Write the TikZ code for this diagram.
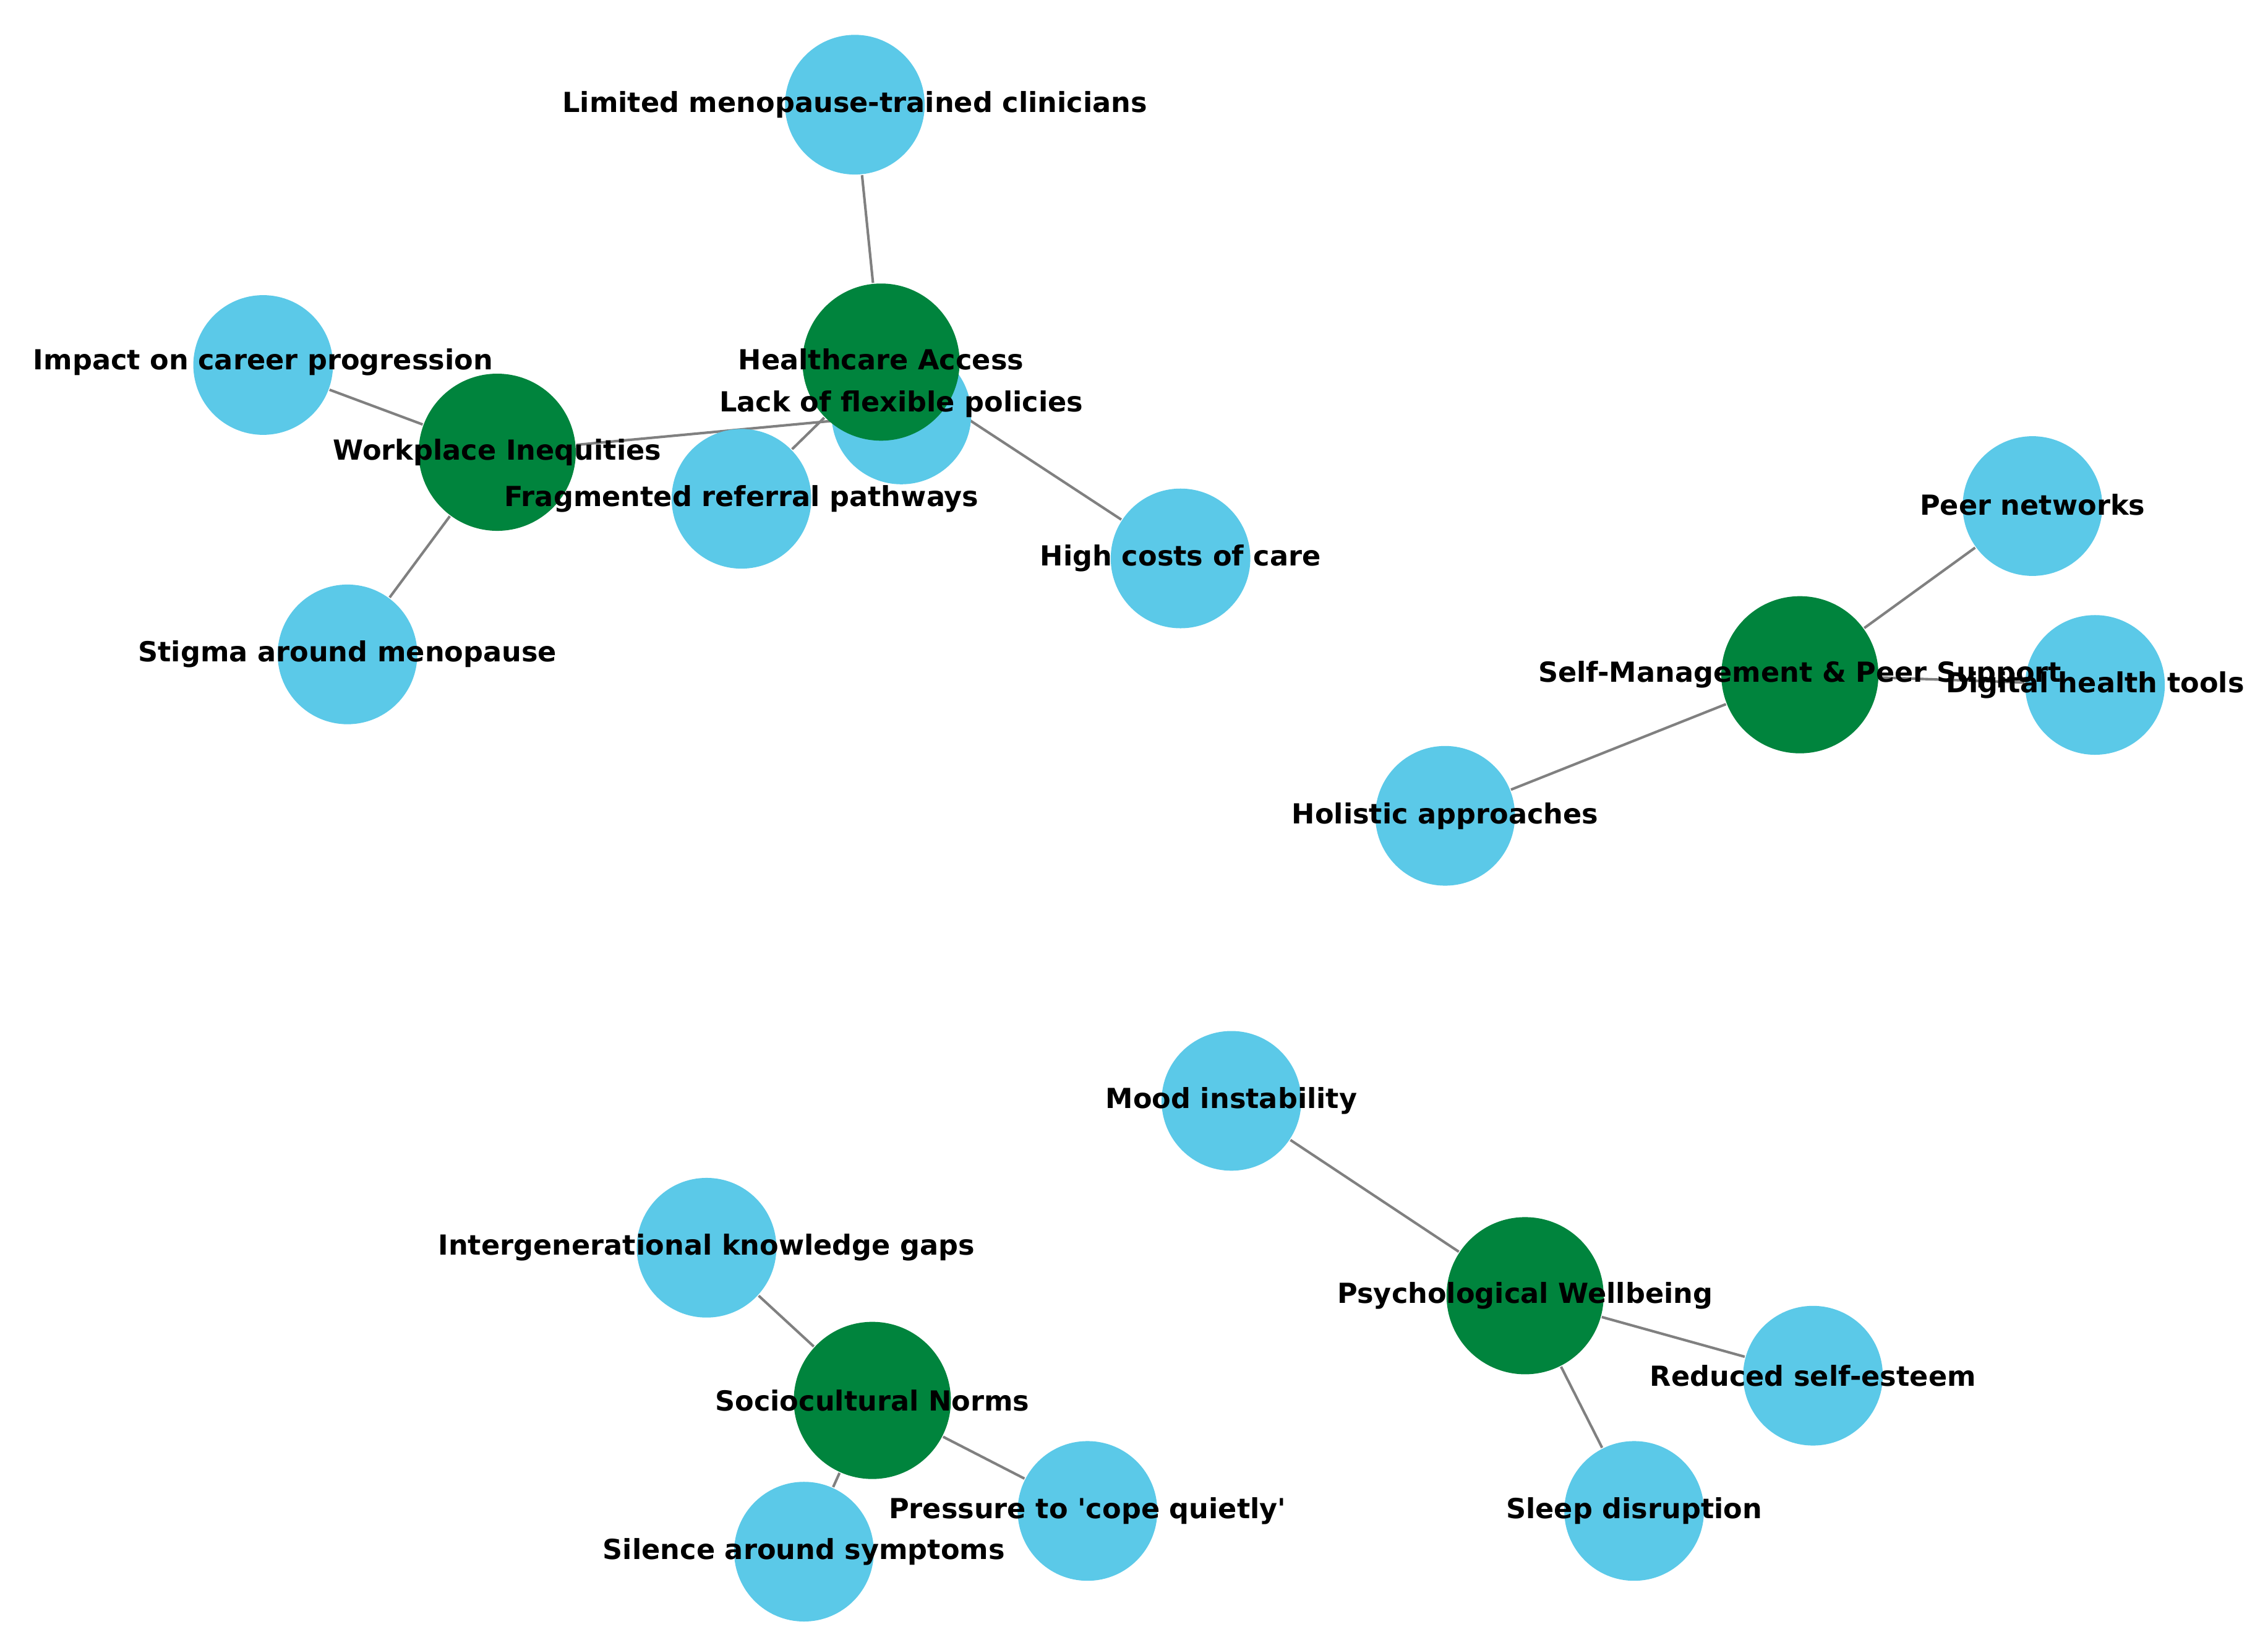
\documentclass[tikz,border=0pt]{standalone}
\usepackage{fontspec}
\setmainfont{DejaVu Sans}
\usetikzlibrary{backgrounds,calc}
\definecolor{leafblue}{HTML}{5BC9E8}
\definecolor{hubgreen}{HTML}{00843D}

\begin{document}
\begin{tikzpicture}[x=0.01cm,y=-0.01cm,
    leaf/.style={circle,fill=leafblue,minimum size=0.96cm,inner sep=0pt},
    hub/.style={circle,fill=hubgreen,minimum size=1.08cm,inner sep=0pt},
    lbl/.style={font=\fontsize{5.4}{6}\selectfont\bfseries,inner sep=0pt},
    edge/.style={draw=gray,line width=0.5pt}]
    \useasboundingbox (0,0) rectangle (1560,1131);

    % LEAVES
    \foreach \n/\x/\y in {lim/588/72, lack/620/285, imp/181/251, frag/510/343,
        cost/812/384, stig/239/450, peer/1398/348, dig/1441/471, hol/994/561,
        mood/847/757, self/1247/946, sleep/1124/1039, gen/486/858,
        cope/748/1039, sil/553/1067}
      \node[leaf] (\n) at (\x,\y) {};

    % HUBS
    \foreach \n/\x/\y in {hc/606/249, wp/342/311, sm/1238/464, psy/1049/891, soc/600/963}
      \node[hub] (\n) at (\x,\y) {};

    % EDGES
    \begin{scope}[on background layer]
      \foreach \a/\b in {hc/lim, hc/frag, hc/cost, wp/imp, wp/stig, wp/lack,
          sm/peer, sm/dig, sm/hol, psy/mood, psy/self, psy/sleep,
          soc/gen, soc/cope, soc/sil}
        \draw[edge] (\a) -- (\b);
    \end{scope}

    % LABELS
    \node[lbl] at (lim) {Limited menopause-trained clinicians};
    \node[lbl] at ($(hc)+(0,-2)$) {Healthcare Access};
    \node[lbl] at ($(lack)+(0,-7)$) {Lack of flexible policies};
    \node[lbl] at (wp) {Workplace Inequities};
    \node[lbl] at ($(imp)+(0,-2)$) {Impact on career progression};
    \node[lbl] at (frag) {Fragmented referral pathways};
    \node[lbl] at (cost) {High costs of care};
    \node[lbl] at (stig) {Stigma around menopause};
    \node[lbl] at ($(peer)+(0,-1)$) {Peer networks};
    \node[lbl] at (sm) {Self-Management \& Peer Support};
    \node[lbl] at (dig) {Digital health tools};
    \node[lbl] at (hol) {Holistic approaches};
    \node[lbl] at (mood) {Mood instability};
    \node[lbl] at (psy) {Psychological Wellbeing};
    \node[lbl] at (self) {Reduced self-esteem};
    \node[lbl] at (sleep) {Sleep disruption};
    \node[lbl] at (gen) {Intergenerational knowledge gaps};
    \node[lbl] at (soc) {Sociocultural Norms};
    \node[lbl] at (cope) {Pressure to \textquotesingle cope quietly\textquotesingle};
    \node[lbl] at (sil) {Silence around symptoms};
\end{tikzpicture}
\end{document}
